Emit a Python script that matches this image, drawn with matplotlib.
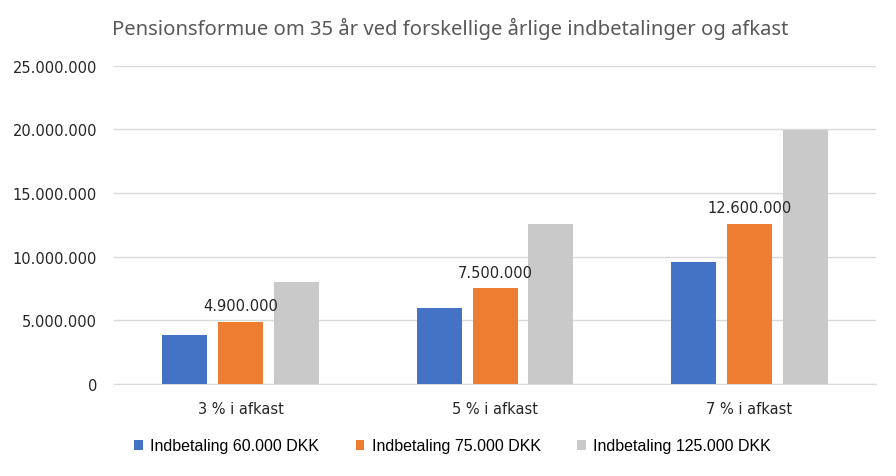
import numpy as np
import matplotlib.pyplot as plt
from matplotlib.patches import Patch
from matplotlib.ticker import FuncFormatter

plt.rcParams['font.family'] = ['DejaVu Sans']

categories = ['3 % i afkast', '5 % i afkast', '7 % i afkast']
series_names = ['Indbetaling 60.000 DKK', 'Indbetaling 75.000 DKK', 'Indbetaling 125.000 DKK']
values_60 = [3820000, 6000000, 9560000]
values_75 = [4900000, 7500000, 12600000]
values_125 = [8030000, 12560000, 19930000]
colors = ['#4472C4', '#ED7D31', '#C9C9C9']


def dk(x, pos=None):
    return f'{int(round(x)):,}'.replace(',', '.')


fig = plt.figure(figsize=(8.96, 4.77), dpi=100)
ax = fig.add_axes([0.127, 0.193, 0.851, 0.667])

x = np.arange(len(categories))
width = 0.177
step = 0.22
series = [values_60, values_75, values_125]
for i, (vals, col) in enumerate(zip(series, colors)):
    bars = ax.bar(x + (i - 1) * step, vals, width, color=col, zorder=3)
    if i == 1:
        for b, v in zip(bars, vals):
            ax.text(b.get_x() + b.get_width() / 2, v + 650000, dk(v),
                    ha='center', va='bottom', fontsize=10.5, color='#262626', zorder=6)

ax.set_xlim(-0.5, 2.5)
ax.set_ylim(0, 25000000)
ax.set_yticks(np.arange(0, 25000001, 5000000))
ax.yaxis.set_major_formatter(FuncFormatter(dk))
ax.set_xticks(x)
ax.set_xticklabels(categories)
ax.tick_params(axis='both', length=0, labelsize=10.5, colors='#262626')
ax.tick_params(axis='y', pad=12)
ax.tick_params(axis='x', pad=12)
ax.grid(axis='y', color='#d9d9d9', linewidth=1, zorder=0)
for s in ['top', 'right', 'left']:
    ax.spines[s].set_visible(False)
ax.spines['bottom'].set_color('#d9d9d9')

fig.text(0.125, 0.94, 'Pensionsformue om 35 år ved forskellige årlige indbetalinger og afkast',
         fontsize=14.6, color='#595959', family='Noto Sans', va='center')

handles = [Patch(facecolor=c, edgecolor='none') for c in colors]
fig.legend(handles, series_names, loc='center', bbox_to_anchor=(0.505, 0.063), ncol=3,
           frameon=False, handlelength=0.55, handleheight=0.55,
           handletextpad=0.45, columnspacing=2.3,
           prop={'family': 'Liberation Sans', 'size': 11.5})

fig.savefig('out.png', dpi=100)
